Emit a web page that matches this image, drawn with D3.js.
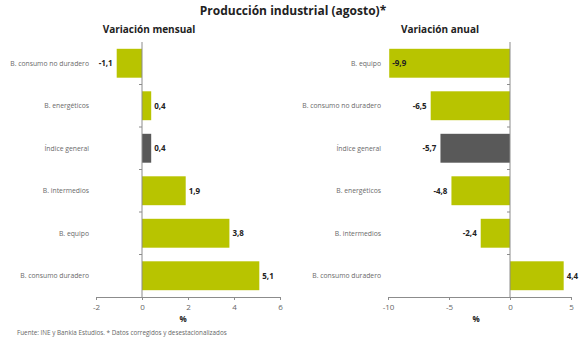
<!DOCTYPE html>
<html>
<head>
<meta charset="utf-8">
<script src="https://cdn.jsdelivr.net/npm/d3@7"></script>
<style>
  body { margin: 0; background: #fff; }
  svg { font-family: "Open Sans", "Noto Sans", sans-serif; }
</style>
</head>
<body>
<div id="chart"></div>
<script>
// data
var mensualCats = ["B. consumo no duradero", "B. energéticos", "Índice general", "B. intermedios", "B. equipo", "B. consumo duradero"];
var mensualVals = [-1.1, 0.4, 0.4, 1.9, 3.8, 5.1];
var mensualTicks = [-2, 0, 2, 4, 6];

var anualCats = ["B. equipo", "B. consumo no duradero", "Índice general", "B. energéticos", "B. intermedios", "B. consumo duradero"];
var anualVals = [-9.9, -6.5, -5.7, -4.8, -2.4, 4.4];
var anualTicks = [-10, -5, 0, 5];

var green = "#b8c400",
    grey = "#595959",
    axisColor = "#8c8c8c";

// plain hyphen and decimal comma, like the original
var fmt = function(v) { return v.toFixed(1).replace(".", ","); };
var fmtTick = function(v) { return String(v); };

var svg = d3.select("#chart")
  .append("svg")
    .attr("width", 586)
    .attr("height", 343);

// main title
svg.append("text")
  .attr("x", 293)
  .attr("y", 15)
  .attr("text-anchor", "middle")
  .style("font-size", "12px")
  .style("font-weight", "bold")
  .style("fill", "#222")
  .text("Producción industrial (agosto)*");

function drawPanel(cfg) {
  var x = d3.scaleLinear()
    .domain(cfg.domain)
    .range(cfg.xRange);
  var y = d3.scaleBand()
    .domain(cfg.cats)
    .range([42, 297])
    .paddingInner(0.32)
    .paddingOuter(0.16);

  var g = svg.append("g");

  // subtitle
  g.append("text")
    .attr("x", cfg.titleX)
    .attr("y", 33)
    .attr("text-anchor", "middle")
    .style("font-size", "10px")
    .style("font-weight", "bold")
    .style("fill", "#222")
    .text(cfg.title);

  // bars
  g.selectAll("rect")
    .data(cfg.vals)
    .enter()
    .append("rect")
    .attr("x", function(d) { return Math.min(x(0), x(d)); })
    .attr("y", function(d, i) { return y(cfg.cats[i]); })
    .attr("width", function(d) { return Math.abs(x(d) - x(0)); })
    .attr("height", y.bandwidth())
    .style("fill", function(d, i) { return cfg.cats[i] === "Índice general" ? grey : green; });

  // x axis
  var xAxis = d3.axisBottom(x)
    .tickValues(cfg.ticks)
    .tickSize(3)
    .tickFormat(fmtTick);
  var ax = g.append("g")
    .attr("transform", "translate(0,297)")
    .call(xAxis);
  ax.select(".domain").attr("stroke", axisColor);
  ax.selectAll(".tick line").attr("stroke", axisColor);
  ax.selectAll(".tick text")
    .attr("dy", "0.9em")
    .style("font-size", "8px")
    .style("fill", "#666")
    .style("font-family", "'Open Sans', sans-serif");

  // zero axis with category ticks
  g.append("line")
    .attr("x1", x(0)).attr("x2", x(0))
    .attr("y1", 42).attr("y2", 297)
    .attr("stroke", axisColor);
  g.selectAll(".cattick")
    .data(d3.range(1, cfg.cats.length))
    .enter()
    .append("line")
    .attr("x1", x(0) - 3).attr("x2", x(0))
    .attr("y1", function(d) { return 42 + d * (255 / cfg.cats.length); })
    .attr("y2", function(d) { return 42 + d * (255 / cfg.cats.length); })
    .attr("stroke", axisColor);

  // category labels
  g.selectAll(".cat")
    .data(cfg.cats)
    .enter()
    .append("text")
    .attr("x", cfg.labelX)
    .attr("y", function(d) { return y(d) + y.bandwidth() / 2; })
    .attr("dy", "0.35em")
    .attr("text-anchor", "end")
    .style("font-size", "6.8px")
    .style("fill", "#6a6a6a")
    .text(function(d) { return d; });

  // value labels
  g.selectAll(".val")
    .data(cfg.vals)
    .enter()
    .append("text")
    .attr("y", function(d, i) { return y(cfg.cats[i]) + y.bandwidth() / 2; })
    .attr("dy", "0.35em")
    .style("font-size", "8px")
    .style("font-weight", "bold")
    .style("fill", "#222")
    .text(function(d) { return fmt(d); })
    .each(function(d) {
      var t = d3.select(this);
      var w = this.getComputedTextLength();
      if (d >= 0) {
        t.attr("x", x(d) + 3).attr("text-anchor", "start");
      } else if (x(d) - 4 - w < x.range()[0]) {
        t.attr("x", x(d) + 3).attr("text-anchor", "start");
      } else {
        t.attr("x", x(d) - 4).attr("text-anchor", "end");
      }
    });

  // % label
  g.append("text")
    .attr("x", cfg.pctX)
    .attr("y", 322)
    .attr("text-anchor", "middle")
    .style("font-size", "8px")
    .style("font-weight", "bold")
    .style("fill", "#222")
    .text("%");
}

drawPanel({
  cats: mensualCats, vals: mensualVals, ticks: mensualTicks,
  domain: [-2, 6], xRange: [96, 280],
  title: "Variación mensual", titleX: 149, labelX: 89, pctX: 183
});

drawPanel({
  cats: anualCats, vals: anualVals, ticks: anualTicks,
  domain: [-10, 5], xRange: [388, 571],
  title: "Variación anual", titleX: 440, labelX: 381, pctX: 476
});

// source note
svg.append("text")
  .attr("x", 17)
  .attr("y", 335)
  .style("font-size", "6.3px")
  .style("fill", "#666")
  .text("Fuente: INE y Bankia Estudios. * Datos corregidos y desestacionalizados");
</script>
</body>
</html>
